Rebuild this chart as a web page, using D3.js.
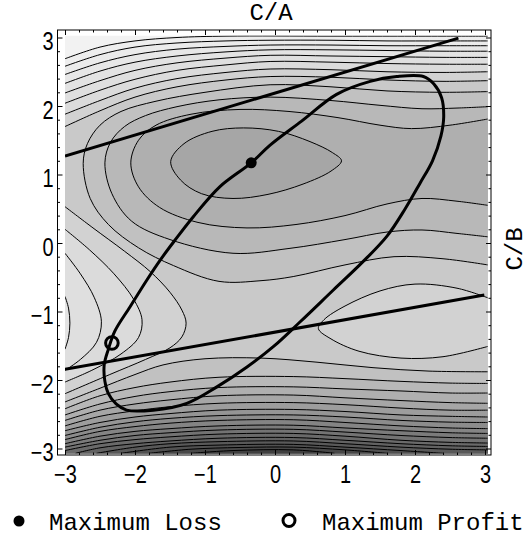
<!DOCTYPE html>
<html>
<head>
<meta charset="utf-8">
<script src="https://cdn.jsdelivr.net/npm/d3@7"></script>
<style>
  body { margin: 0; background: #fff; }
  svg { display: block; }
</style>
</head>
<body>
<div id="chart"></div>
<script>
const xTicks = [-3, -2, -1, 0, 1, 2, 3]
const yTicks = [-3, -2, -1, 0, 1, 2, 3]

// sampled region of the surface
const X0 = -3, X1 = 3.04, Y0 = -3.07, Y1 = 3.03

// contour lines, [C/A, C/B]
const top12 = [[-3, 2.69], [-2.5, 2.86], [-2, 2.95], [-1.4, 3.0], [-0.7, 3.02], [0.8, 3.02], [2.4, 3.02], [3.04, 3.02]]
const top11 = [[-3, 2.58], [-2.5, 2.75], [-2, 2.86], [-1.4, 2.92], [-0.7, 2.95], [-0.07, 2.96], [0.8, 2.96], [1.6, 2.95], [2.4, 2.95], [3.04, 2.95]]
const top10 = [[-3, 2.46], [-2.5, 2.63], [-2, 2.75], [-1.4, 2.83], [-0.7, 2.87], [-0.07, 2.89], [0.8, 2.89], [1.6, 2.88], [2.4, 2.88], [3.04, 2.88]]
const top9 = [[-3, 2.33], [-2.5, 2.51], [-2, 2.64], [-1.4, 2.73], [-0.7, 2.79], [-0.07, 2.82], [0.8, 2.82], [1.6, 2.81], [2.4, 2.8], [3.04, 2.8]]
const top8 = [[-3, 2.19], [-2.5, 2.37], [-2, 2.52], [-1.4, 2.63], [-0.7, 2.7], [-0.07, 2.74], [0.8, 2.73], [1.6, 2.72], [2.4, 2.71], [3.04, 2.71]]
const top7 = [[-3, 2.04], [-2.5, 2.23], [-2, 2.39], [-1.4, 2.52], [-0.7, 2.6], [-0.07, 2.65], [0.8, 2.64], [1.6, 2.62], [2.4, 2.61], [3.04, 2.61]]
const top6 = [[-3, 1.88], [-2.5, 2.08], [-2, 2.26], [-1.4, 2.4], [-0.7, 2.49], [-0.07, 2.54], [0.8, 2.53], [1.6, 2.5], [2.4, 2.49], [3.04, 2.5]]
const top5 = [[-3, 1.7], [-2.5, 1.93], [-2, 2.13], [-1.4, 2.28], [-0.7, 2.38], [-0.07, 2.43], [0.8, 2.42], [1.6, 2.38], [2.4, 2.36], [3.04, 2.37]]

const basin4 = [[3.04, 2.21], [2.4, 2.2], [1.6, 2.22], [0.8, 2.28], [-0.07, 2.31], [-1.0, 2.2], [-1.7, 2.07], [-2.2, 1.92], [-2.5, 1.72], [-2.68, 1.45], [-2.74, 1.16], [-2.64, 0.65], [-2.38, 0.27], [-1.95, -0.07], [-1.45, -0.33], [-0.8, -0.56], [-0.2, -0.55], [0.26, -0.49], [1.0, -0.32], [1.7, -0.2], [2.4, -0.23], [3.04, -0.32]]
const basin3 = [[3.04, 1.99], [2.6, 1.97], [2.1, 1.96], [1.5, 2.01], [0.8, 2.08], [-0.07, 2.13], [-0.8, 2.09], [-1.4, 1.99], [-1.85, 1.86], [-2.15, 1.7], [-2.35, 1.47], [-2.43, 1.17], [-2.33, 0.72], [-2.05, 0.32], [-1.5, 0.05], [-0.6, -0.15], [0.2, -0.08], [1.0, 0.05], [1.6, 0.16], [2.1, 0.19], [2.6, 0.14], [3.04, 0.09]]
const basin2 = [[3.04, 1.81], [2.5, 1.72], [1.95, 1.67], [1.5, 1.72], [0.9, 1.83], [0.2, 1.92], [-0.5, 1.95], [-1.2, 1.88], [-1.7, 1.72], [-1.95, 1.5], [-2.06, 1.17], [-1.95, 0.82], [-1.65, 0.52], [-1.1, 0.3], [-0.4, 0.22], [0.3, 0.27], [1.0, 0.4], [1.6, 0.57], [2.1, 0.65], [2.6, 0.61], [3.04, 0.55]]
const basin1 = [[-1.49, 1.19], [-1.3, 1.45], [-0.9, 1.63], [-0.45, 1.68], [0.05, 1.63], [0.5, 1.48], [0.82, 1.32], [0.95, 1.2], [0.8, 1.05], [0.4, 0.86], [-0.1, 0.71], [-0.6, 0.65], [-1.05, 0.72], [-1.35, 0.92]]

const leftArc5 = [[-3, 0.53], [-2.6, 0.22], [-2.15, -0.12], [-1.78, -0.42], [-1.5, -0.72], [-1.33, -0.98], [-1.27, -1.17], [-1.33, -1.37], [-1.5, -1.53], [-1.85, -1.7], [-2.36, -1.92], [-3, -2.2]]
const leftArc6 = [[-3, 0.2], [-2.65, -0.1], [-2.3, -0.45], [-2.02, -0.82], [-1.9, -1.12], [-1.95, -1.38], [-2.2, -1.62], [-2.6, -1.85], [-3, -2.03]]
const leftArc7 = [[-3, -0.15], [-2.78, -0.45], [-2.58, -0.8], [-2.48, -1.15], [-2.55, -1.45], [-2.78, -1.7], [-3, -1.86]]
const leftArc8 = [[-3, -0.78], [-2.95, -0.95], [-2.93, -1.17], [-2.95, -1.38], [-3, -1.55]]
const rightOval5 = [[3.04, -0.8], [2.6, -0.66], [2.0, -0.6], [1.5, -0.7], [1.0, -0.92], [0.7, -1.12], [0.62, -1.25], [0.8, -1.4], [1.2, -1.58], [1.8, -1.68], [2.4, -1.66], [3.04, -1.51]]

const bottom4 = [[-3, -2.32], [-2.5, -2.12], [-2.0, -1.92], [-1.6, -1.78], [-1.0, -1.69], [-0.2, -1.68], [0.6, -1.74], [1.4, -1.82], [2.2, -1.87], [3.04, -1.88]]
const bottom3 = [[-3, -2.42], [-2.5, -2.23], [-2, -2.11], [-1.5, -2.03], [-0.8, -1.96], [0.26, -1.95], [1.0, -1.98], [1.8, -2.02], [2.5, -2.045], [3.04, -2.05]]
const bottom2 = [[-3, -2.51], [-2.5, -2.35], [-2, -2.24], [-1.5, -2.17], [-0.8, -2.11], [0.26, -2.1], [1.0, -2.13], [1.8, -2.16], [2.5, -2.19], [3.04, -2.19]]
const bottom1 = [[-3, -2.59], [-2.5, -2.44], [-2, -2.35], [-1.5, -2.29], [-0.8, -2.23], [0.26, -2.22], [1.0, -2.26], [1.8, -2.3], [2.5, -2.33], [3.04, -2.34]]
const bottom0 = [[-3, -2.67], [-2.5, -2.53], [-2, -2.45], [-1.5, -2.39], [-0.8, -2.34], [0.26, -2.33], [1.0, -2.36], [1.8, -2.41], [2.5, -2.44], [3.04, -2.44]]
const bottomM1 = [[-3, -2.74], [-2.5, -2.62], [-2, -2.54], [-1.5, -2.49], [-0.8, -2.44], [0.26, -2.43], [1.0, -2.46], [1.8, -2.51], [2.5, -2.53], [3.04, -2.54]]
const bottomM2 = [[-3, -2.81], [-2.5, -2.69], [-2, -2.61], [-1.5, -2.56], [-0.8, -2.52], [0.26, -2.51], [1.0, -2.54], [1.8, -2.59], [2.5, -2.615], [3.04, -2.62]]
const bottomM3 = [[-3, -2.87], [-2.5, -2.75], [-2, -2.68], [-1.5, -2.63], [-0.8, -2.59], [0.26, -2.58], [1.0, -2.62], [1.8, -2.67], [2.5, -2.7], [3.04, -2.71]]
const bottomM4 = [[-3, -2.93], [-2.5, -2.82], [-2, -2.75], [-1.5, -2.71], [-0.8, -2.67], [0.26, -2.66], [1.0, -2.7], [1.8, -2.74], [2.5, -2.77], [3.04, -2.78]]
const bottomM5 = [[-3, -2.98], [-2.5, -2.88], [-2, -2.81], [-1.5, -2.77], [-0.8, -2.73], [0.26, -2.72], [1.0, -2.76], [1.8, -2.81], [2.5, -2.84], [3.04, -2.85]]
const bottomM6 = [[-3, -3.03], [-2.5, -2.93], [-2, -2.87], [-1.5, -2.83], [-0.8, -2.79], [0.26, -2.78], [1.0, -2.82], [1.8, -2.88], [2.5, -2.91], [3.04, -2.92]]
const bottomM7 = [[-2.85, -3.07], [-2.5, -2.99], [-2, -2.93], [-1.5, -2.89], [-0.8, -2.85], [0.26, -2.84], [1.0, -2.88], [1.8, -2.93], [2.5, -2.96], [3.04, -2.97]]
const bottomM8 = [[-2.55, -3.07], [-2, -2.98], [-1.5, -2.93], [-0.8, -2.9], [0.26, -2.89], [1.0, -2.93], [1.8, -2.98], [2.5, -3.01], [3.04, -3.02]]
const bottomM9 = [[-2.2, -3.07], [-1.5, -2.98], [-0.8, -2.95], [0.26, -2.94], [1.0, -2.98], [1.8, -3.03], [2.4, -3.07]]
const bottomM10 = [[-1.8, -3.07], [-1.2, -3.01], [-0.5, -2.985], [0.26, -2.98], [1.0, -3.02], [1.6, -3.07]]
const bottomM11 = [[-1.2, -3.07], [-0.6, -3.03], [0.26, -3.02], [0.85, -3.07]]

// heavy curves and the two marked points
const lineA = [[-3, 1.27], [2.62, 2.99]]
const lineB = [[-3, -1.845], [2.99, -0.76]]
const loop = [[-0.34, 1.17], [-0.07, 1.43], [0.38, 1.78], [0.88, 2.17], [1.36, 2.36], [1.74, 2.43], [2.12, 2.43], [2.27, 2.32], [2.38, 2.12], [2.41, 1.84], [2.37, 1.56], [2.25, 1.2], [2.07, 0.87], [1.86, 0.5], [1.6, 0.1], [1.25, -0.28], [0.83, -0.69], [0.36, -1.15], [-0.02, -1.51], [-0.4, -1.81], [-0.83, -2.1], [-1.26, -2.34], [-1.74, -2.44], [-2.12, -2.44], [-2.27, -2.35], [-2.38, -2.2], [-2.43, -2.02], [-2.44, -1.78], [-2.38, -1.55], [-2.29, -1.29], [-2.07, -0.93], [-1.83, -0.54], [-1.64, -0.25], [-1.43, 0.04], [-1.17, 0.38], [-0.79, 0.82]]
const maxLoss = [-0.34, 1.17]
const maxProfit = [-2.33, -1.46]
const legendLabels = ["Maximum Loss", "Maximum Profit"]

const contours = [
  {level: 12, points: top12, close: "below"},
  {level: 11, points: top11, close: "below"},
  {level: 10, points: top10, close: "below"},
  {level: 9, points: top9, close: "below"},
  {level: 8, points: top8, close: "below"},
  {level: 8, points: leftArc8, close: "left"},
  {level: 7, points: top7, close: "below"},
  {level: 7, points: leftArc7, close: "left"},
  {level: 6, points: top6, close: "below"},
  {level: 6, points: leftArc6, close: "left"},
  {level: 5, points: top5, close: "below"},
  {level: 5, points: leftArc5, close: "left"},
  {level: 5, points: rightOval5, close: "right"},
  {level: 4, points: basin4, close: "right"},
  {level: 4, points: bottom4, close: "below"},
  {level: 3, points: basin3, close: "right"},
  {level: 3, points: bottom3, close: "below"},
  {level: 2, points: basin2, close: "right"},
  {level: 2, points: bottom2, close: "below"},
  {level: 1, points: basin1, close: "closed"},
  {level: 1, points: bottom1, close: "below"},
  {level: 0, points: bottom0, close: "below"},
  {level: -1, points: bottomM1, close: "below"},
  {level: -2, points: bottomM2, close: "below"},
  {level: -3, points: bottomM3, close: "below"},
  {level: -4, points: bottomM4, close: "below"},
  {level: -5, points: bottomM5, close: "below"},
  {level: -6, points: bottomM6, close: "below"},
  {level: -7, points: bottomM7, close: "below"},
  {level: -8, points: bottomM8, close: "below"},
  {level: -9, points: bottomM9, close: "bottom"},
  {level: -10, points: bottomM10, close: "bottom"},
  {level: -11, points: bottomM11, close: "bottom"},
]

const width = 531
const height = 538
const frame = {left: 57.5, right: 491, top: 30, bottom: 455}

const x = d3.scaleLinear().domain([-3, 3]).range([65, 485])
const y = d3.scaleLinear().domain([-3, 3]).range([448.5, 37.5])

// band index 0 = lowest, 24 = highest
const gray = d3.scaleLinear().domain([0, 12, 18, 24]).range([0.25, 0.65, 0.86, 0.95])
const bandColor = band => {
  const v = Math.round(gray(band) * 255)
  return d3.rgb(v, v, v).toString()
}

const curve = d3.line().x(d => x(d[0])).y(d => y(d[1])).curve(d3.curveCatmullRom)
const closedCurve = d3.line().x(d => x(d[0])).y(d => y(d[1])).curve(d3.curveCatmullRomClosed)

// closes a contour on its low side, running just outside the sampled box
function ringPath(contour) {
  if (contour.close === "closed") return closedCurve(contour.points)
  const pad = 0.3
  const first = contour.points[0]
  const last = contour.points[contour.points.length - 1]
  let extra = []
  if (contour.close === "below") {
    extra = [[X1 + pad, last[1]], [X1 + pad, Y0 - pad]]
    if (first[0] <= X0) extra.push([X0 - pad, Y0 - pad], [X0 - pad, first[1]])
    else extra.push([first[0], Y0 - pad])
  } else if (contour.close === "left") {
    extra = [[X0 - pad, last[1]], [X0 - pad, first[1]]]
  } else if (contour.close === "right") {
    extra = [[X1 + pad, last[1]], [X1 + pad, first[1]]]
  } else if (contour.close === "bottom") {
    extra = [[last[0], Y0 - pad], [first[0], Y0 - pad]]
  }
  return curve(contour.points) + extra.map(p => `L${x(p[0])},${y(p[1])}`).join("") + "Z"
}

const svg = d3.select("#chart")
  .append("svg")
  .attr("width", width)
  .attr("height", height)
  .attr("viewBox", `0 0 ${width} ${height}`)
  .style("background", "#fff")

svg.append("clipPath")
  .attr("id", "plot-clip")
  .append("rect")
  .attr("x", x(X0))
  .attr("y", y(Y1))
  .attr("width", x(X1) - x(X0))
  .attr("height", y(Y0) - y(Y1))

const plot = svg.append("g").attr("clip-path", "url(#plot-clip)")

plot.append("rect")
  .attr("x", x(X0))
  .attr("y", y(Y1))
  .attr("width", x(X1) - x(X0))
  .attr("height", y(Y0) - y(Y1))
  .attr("fill", bandColor(24))

// paint {f < level} from the highest level down
const levels = [...new Set(contours.map(c => c.level))].sort((a, b) => b - a)
levels.forEach(level => {
  const d = contours.filter(c => c.level === level).map(ringPath).join(" ")
  plot.append("path")
    .attr("d", d)
    .attr("fill-rule", "evenodd")
    .attr("fill", bandColor(level + 11))
})

contours.forEach(contour => {
  plot.append("path")
    .attr("d", contour.close === "closed" ? closedCurve(contour.points) : curve(contour.points))
    .attr("fill", "none")
    .attr("stroke", "#000")
    .attr("stroke-width", 1)
})

const heavy = d3.line().x(d => x(d[0])).y(d => y(d[1]))
;[lineA, lineB].forEach(points => {
  plot.append("path")
    .attr("d", heavy(points))
    .attr("fill", "none")
    .attr("stroke", "#000")
    .attr("stroke-width", 3)
})
plot.append("path")
  .attr("d", closedCurve(loop))
  .attr("fill", "none")
  .attr("stroke", "#000")
  .attr("stroke-width", 3)
  .attr("stroke-linejoin", "round")

plot.append("circle")
  .attr("cx", x(maxLoss[0]))
  .attr("cy", y(maxLoss[1]))
  .attr("r", 5.5)
  .attr("fill", "#000")

plot.append("circle")
  .attr("cx", x(maxProfit[0]))
  .attr("cy", y(maxProfit[1]))
  .attr("r", 6.3)
  .attr("fill", "none")
  .attr("stroke", "#000")
  .attr("stroke-width", 3)

// frame and ticks
svg.append("rect")
  .attr("x", frame.left)
  .attr("y", frame.top)
  .attr("width", frame.right - frame.left)
  .attr("height", frame.bottom - frame.top)
  .attr("fill", "none")
  .attr("stroke", "#000")
  .attr("stroke-width", 1)

const minorX = x.ticks(30).filter(t => !xTicks.includes(t))
const minorY = y.ticks(30).filter(t => !yTicks.includes(t))
const styleTicks = group => {
  group.select(".domain").remove()
  group.selectAll("line").attr("stroke", "#000")
}
const styleLabels = (group, dy) => {
  group.attr("font-family", "'Liberation Sans', Arial, sans-serif").attr("font-size", 25)
  group.selectAll("text").attr("fill", "#000").attr("transform", "scale(0.8,1)").attr("dy", dy)
}

svg.append("g")
  .attr("transform", `translate(0,${frame.bottom})`)
  .call(d3.axisBottom(x).tickValues(xTicks).tickSize(-5).tickPadding(10).tickFormat(d3.format("d")))
  .call(styleTicks)
  .call(group => styleLabels(group, "0.71em"))
svg.append("g")
  .attr("transform", `translate(0,${frame.bottom})`)
  .call(d3.axisBottom(x).tickValues(minorX).tickSize(-2.5).tickFormat(""))
  .call(styleTicks)

svg.append("g")
  .attr("transform", `translate(${frame.left},0)`)
  .call(d3.axisLeft(y).tickValues(yTicks).tickSize(-5).tickPadding(5).tickFormat(d3.format("d")))
  .call(styleTicks)
  .call(group => styleLabels(group, "0.48em"))
svg.append("g")
  .attr("transform", `translate(${frame.left},0)`)
  .call(d3.axisLeft(y).tickValues(minorY).tickSize(-2.5).tickFormat(""))
  .call(styleTicks)

svg.append("g")
  .attr("transform", `translate(0,${frame.top})`)
  .call(d3.axisTop(x).tickValues(xTicks).tickSize(-5).tickFormat(""))
  .call(styleTicks)
svg.append("g")
  .attr("transform", `translate(0,${frame.top})`)
  .call(d3.axisTop(x).tickValues(minorX).tickSize(-2.5).tickFormat(""))
  .call(styleTicks)

svg.append("g")
  .attr("transform", `translate(${frame.right},0)`)
  .call(d3.axisRight(y).tickValues(yTicks).tickSize(-5).tickFormat(""))
  .call(styleTicks)
svg.append("g")
  .attr("transform", `translate(${frame.right},0)`)
  .call(d3.axisRight(y).tickValues(minorY).tickSize(-2.5).tickFormat(""))
  .call(styleTicks)

const mono = "'Liberation Mono', 'Courier New', monospace"

svg.append("text")
  .attr("x", 271)
  .attr("y", 20)
  .attr("text-anchor", "middle")
  .attr("font-family", mono)
  .attr("font-size", 24)
  .text("C/A")

svg.append("text")
  .attr("transform", "translate(522,249) rotate(-90)")
  .attr("text-anchor", "middle")
  .attr("font-family", mono)
  .attr("font-size", 24)
  .text("C/B")

// legend
const legend = svg.append("g").attr("font-family", mono).attr("font-size", 24)
legend.append("circle").attr("cx", 19).attr("cy", 521).attr("r", 5.5).attr("fill", "#000")
legend.append("text").attr("x", 49).attr("y", 529.5).text(legendLabels[0])
legend.append("circle").attr("cx", 289).attr("cy", 520.5).attr("r", 6).attr("fill", "none").attr("stroke", "#000").attr("stroke-width", 3)
legend.append("text").attr("x", 322).attr("y", 529.5).text(legendLabels[1])
</script>
</body>
</html>
